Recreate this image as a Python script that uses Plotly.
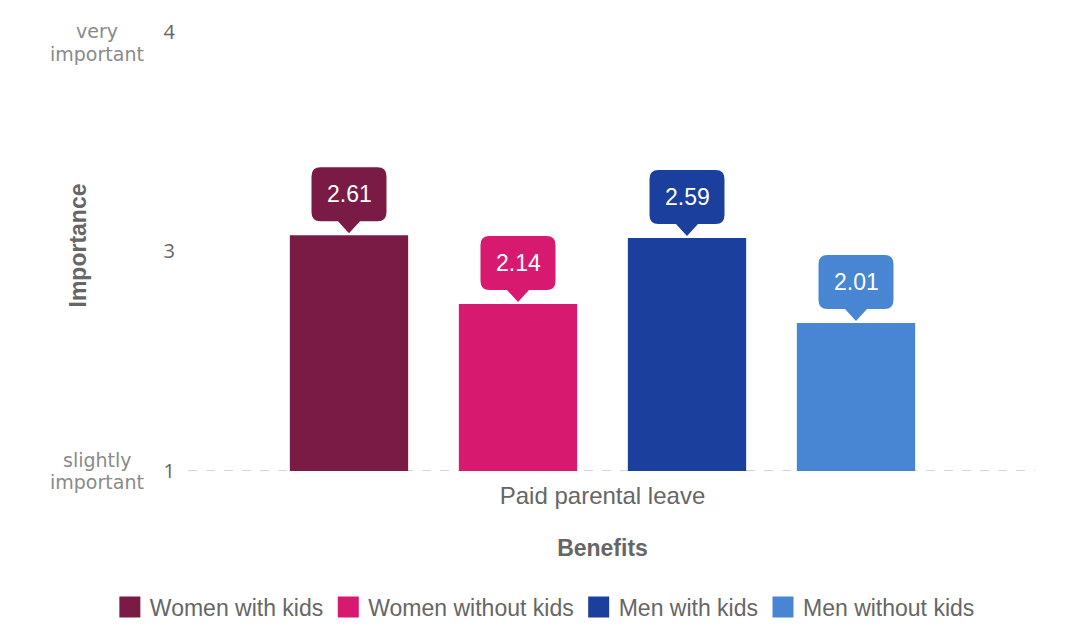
import plotly.graph_objects as go

categories = ["Paid parental leave"]
series_names = ["Women with kids", "Women without kids", "Men with kids", "Men without kids"]
series_values = [2.61, 2.14, 2.59, 2.01]
series_colors = ["#7a1b45", "#d71a70", "#1b3f9c", "#4886d3"]
y_tickvals = [1, 2.5, 4]
y_ticktext = ["1", "3", "4"]

BARGAP = 0.2
GROUPGAP = 0.3
FONT = "Liberation Sans, Arial"
GREY = "#666666"

fig = go.Figure()
for name, val, col in zip(series_names, series_values, series_colors):
    fig.add_trace(go.Bar(
        name=name, x=categories, y=[val - 1], base=1,
        marker=dict(color=col, line=dict(width=0)),
        hoverinfo="skip", showlegend=False, legendgroup=name,
    ))
# legend entries (larger square swatches)
for name, col in zip(series_names, series_colors):
    fig.add_trace(go.Scatter(
        name=name, x=[None], y=[None], mode="markers", legendgroup=name,
        marker=dict(symbol="square", size=16, color=col, line=dict(color=col, width=5)),
        hoverinfo="skip", showlegend=True,
    ))

# callout label positions derived from grouped-bar layout
n = len(series_names)
slot = (1 - BARGAP) / n
shapes = []
annotations = []
for i, (val, col) in enumerate(zip(series_values, series_colors)):
    xc = -(1 - BARGAP) / 2 + slot * (i + 0.5)
    hw, b, tp, r, ph = 37.5, 14, 68, 9, 11
    path = (f"M {-hw + r},{tp} L {hw - r},{tp} Q {hw},{tp} {hw},{tp - r} "
            f"L {hw},{b + r} Q {hw},{b} {hw - r},{b} L {ph},{b} L 0,2 L {-ph},{b} "
            f"L {-hw + r},{b} Q {-hw},{b} {-hw},{b + r} L {-hw},{tp - r} "
            f"Q {-hw},{tp} {-hw + r},{tp} Z")
    shapes.append(dict(
        type="path", xref="x", yref="y", xsizemode="pixel", ysizemode="pixel",
        xanchor=xc, yanchor=val, path=path,
        fillcolor=col, line=dict(width=0), layer="above",
    ))
    annotations.append(dict(
        x=xc, y=val, xref="x", yref="y", text=f"{val:.2f}", showarrow=False,
        yshift=(b + tp) / 2, yanchor="middle", xanchor="center",
        font=dict(family=FONT, size=23, color="white"),
    ))

shapes.append(dict(
    type="line", xref="paper", yref="y", x0=0.0095, x1=1.012, y0=1, y1=1,
    line=dict(color="#aaaaaa", width=1.2, dash="dash"), layer="below",
))

side_font = dict(family="DejaVu Sans", size=19, color="#8a8a8a")
for txt, yv, ys in [("very", 4, 1), ("important", 4, -22),
                    ("slightly", 1, 11), ("important", 1, -11)]:
    annotations.append(dict(
        xref="paper", yref="y", x=-0.098, y=yv, yshift=ys, text=txt,
        showarrow=False, xanchor="center", yanchor="middle", font=side_font,
    ))

fig.update_layout(
    width=1067, height=630, autosize=False,
    margin=dict(l=172, r=50, t=12, b=167, autoexpand=False),
    paper_bgcolor="white", plot_bgcolor="white",
    barmode="group", bargap=BARGAP, bargroupgap=GROUPGAP,
    shapes=shapes, annotations=annotations,
    showlegend=True,
    legend=dict(
        orientation="h", x=-0.083, xanchor="left",
        y=-0.3016, yanchor="middle",
        font=dict(family=FONT, size=23, color=GREY),
        traceorder="normal", itemsizing="trace",
    ),
    xaxis=dict(
        type="category", showgrid=False, zeroline=False, showline=False,
        ticks="", ticklabelstandoff=8,
        tickfont=dict(family=FONT, size=24, color=GREY),
        title=dict(text="<b>Benefits</b>", standoff=31,
                   font=dict(family=FONT, size=23, color=GREY)),
        automargin=False,
    ),
    yaxis=dict(
        range=[1, 1 + 451 / 146.5], tickvals=y_tickvals, ticktext=y_ticktext,
        showgrid=False, zeroline=False, showline=False, ticks="",
        ticklabelstandoff=4,
        tickfont=dict(family="Open Sans", size=20, color=GREY),
        title=dict(text="<b>Importance</b>", standoff=70,
                   font=dict(family=FONT, size=23, color=GREY)),
        automargin=False,
    ),
    font=dict(family=FONT, color=GREY),
)

fig.write_html("out.html")
